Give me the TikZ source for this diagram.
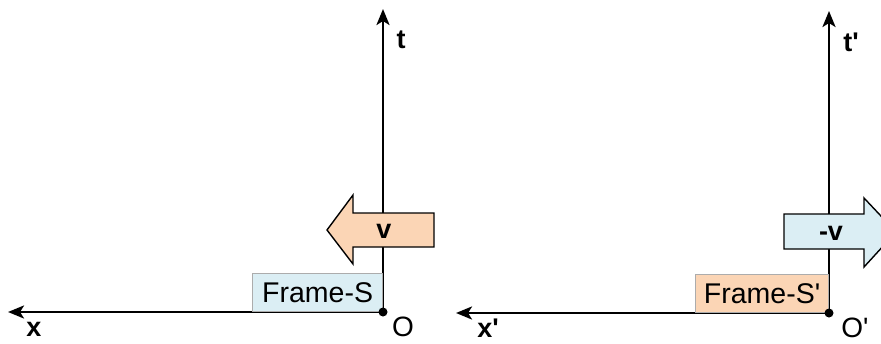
\documentclass[tikz,border=0pt]{standalone}
\usepackage{fontspec}
\setmainfont{Liberation Sans}
\usetikzlibrary{arrows.meta}
\definecolor{peach}{HTML}{FBD5B5}
\definecolor{paleblue}{HTML}{DBEEF4}
\newcommand{\pr}{\textquotesingle}
\begin{document}
\begin{tikzpicture}[x=1pt,y=-1pt,
        axis/.style={line width=2.6pt,-{Stealth[length=16pt,width=13pt,inset=4pt]}},
        framebox/.style={draw=gray!65,line width=0.8pt,minimum height=38pt,inner sep=0pt,
            anchor=south east,font=\fontsize{28.5}{30}\selectfont},
        velarrow/.style={draw=black,line width=1.4pt},
        axislabel/.style={inner sep=0pt,font=\bfseries\fontsize{27}{30}\selectfont},
        originlabel/.style={inner sep=0pt,font=\fontsize{28}{30}\selectfont},
        dot/.style={circle,fill,inner sep=0pt,minimum size=9pt}]
        \useasboundingbox (0,0) rectangle (881,343);
        % frame S
        \coordinate (O) at (383,312);
        \coordinate (tS) at (383,9);
        \coordinate (xS) at (8,312);
        \draw[axis] (O) -- (tS);
        \draw[axis] (O) -- (xS);
        \draw[velarrow,fill=peach] (434,213) -- (353,213) -- (353,195) -- (327,230)
            -- (353,264) -- (353,247) -- (434,247) -- cycle;
        \node[axislabel] (vS) at (384,231) {v};
        \node[framebox,fill=paleblue,minimum width=130pt] (frameS) at (O) {Frame-S};
        \node[dot] (dotS) at (O) {};
        \node[axislabel] (tlabS) at (401,40) {t};
        \node[axislabel] (xlabS) at (34,329) {x};
        \node[originlabel] (olabS) at (403,327) {O};
        % frame S'
        \coordinate (O') at (829,313);
        \coordinate (tS') at (829,11);
        \coordinate (xS') at (456,313);
        \draw[axis] (O') -- (tS');
        \draw[axis] (O') -- (xS');
        \draw[velarrow,fill=paleblue] (784,214) -- (864,214) -- (864,198) -- (896,232)
            -- (864,267) -- (864,249) -- (784,249) -- cycle;
        \node[axislabel] (vS') at (831,233) {-v};
        \node[framebox,fill=peach,minimum width=133pt] (frameS') at (O') {Frame-S\pr};
        \node[dot] (dotS') at (O') {};
        \node[axislabel] (tlabS') at (851,42) {t\pr};
        \node[axislabel] (xlabS') at (488,328) {x\pr};
        \node[originlabel] (olabS') at (855,328) {O\pr};
\end{tikzpicture}
\end{document}
